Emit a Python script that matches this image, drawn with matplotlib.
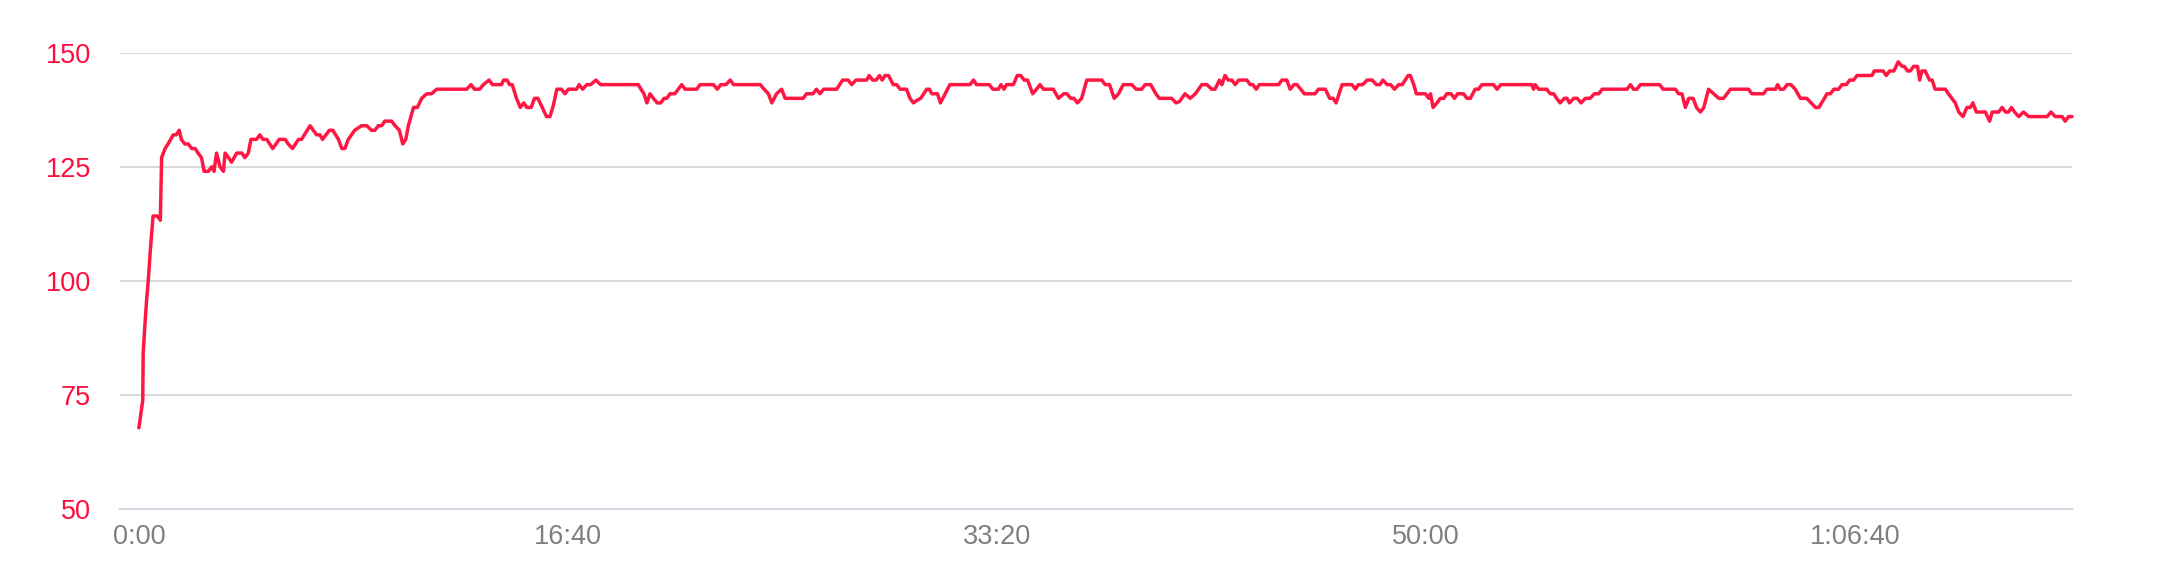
import matplotlib
matplotlib.use("Agg")
import matplotlib.pyplot as plt
from matplotlib.ticker import FuncFormatter, FixedLocator

# elapsed time in seconds
time_s = [
    0, 9, 10, 14, 18, 22, 27, 33, 43, 50, 53, 61, 68, 80, 87, 94, 99, 107, 115, 123,
    131, 138, 146, 152, 162, 170, 175, 181, 189, 197, 201, 209, 216, 228, 240, 247, 255, 261, 274, 282,
    289, 298, 312, 327, 341, 348, 358, 372, 379, 399, 414, 422, 428, 444, 452, 465, 473, 480, 488, 503,
    519, 531, 542, 550, 558, 566, 573, 589, 597, 607, 615, 622, 628, 640, 649, 659, 671, 682, 694, 764,
    774, 782, 794, 803, 816, 824, 845, 850, 858, 864, 870, 880, 889, 897, 904, 914, 922, 930, 940, 950,
    958, 966, 974, 985, 993, 1001, 1020, 1026, 1034, 1044, 1053, 1065, 1076, 1164, 1170, 1177, 1184, 1191, 1199, 1208,
    1216, 1224, 1230, 1238, 1249, 1265, 1273, 1300, 1308, 1339, 1348, 1356, 1368, 1378, 1386, 1448, 1457, 1467, 1475, 1486,
    1498, 1506, 1548, 1556, 1571, 1579, 1587, 1596, 1626, 1640, 1653, 1661, 1671, 1696, 1702, 1710, 1718, 1726, 1732, 1739,
    1747, 1758, 1766, 1774, 1789, 1797, 1805, 1814, 1822, 1836, 1842, 1848, 1861, 1868, 1879, 1890, 1937, 1945, 1952, 1982,
    1990, 2003, 2009, 2016, 2022, 2038, 2047, 2055, 2063, 2071, 2083, 2092, 2100, 2108, 2131, 2143, 2155, 2162, 2172, 2179,
    2187, 2197, 2209, 2217, 2244, 2252, 2262, 2273, 2283, 2294, 2314, 2324, 2337, 2345, 2358, 2370, 2378, 2407, 2417, 2425,
    2438, 2450, 2462, 2477, 2489, 2500, 2508, 2518, 2524, 2531, 2539, 2547, 2555, 2563, 2582, 2590, 2596, 2604, 2611, 2656,
    2664, 2675, 2683, 2692, 2699, 2716, 2741, 2749, 2765, 2775, 2783, 2790, 2804, 2827, 2835, 2842, 2852, 2862, 2874, 2884,
    2892, 2899, 2909, 2917, 2926, 2936, 2944, 2958, 2963, 2971, 2977, 2998, 3006, 3010, 3016, 3025, 3033, 3041, 3048, 3058,
    3066, 3073, 3087, 3095, 3103, 3114, 3122, 3130, 3157, 3165, 3174, 3246, 3250, 3254, 3262, 3281, 3289, 3297, 3304, 3312,
    3322, 3328, 3334, 3344, 3352, 3361, 3371, 3382, 3392, 3402, 3410, 3468, 3476, 3483, 3491, 3499, 3544, 3552, 3581, 3588,
    3596, 3604, 3612, 3622, 3630, 3639, 3647, 3658, 3670, 3682, 3693, 3709, 3751, 3759, 3786, 3794, 3814, 3819, 3825, 3833,
    3841, 3850, 3860, 3872, 3887, 3907, 3915, 3928, 3934, 3942, 3950, 3961, 3969, 3979, 3987, 3996, 4004, 4039, 4044, 4065,
    4072, 4080, 4090, 4100, 4109, 4114, 4122, 4128, 4136, 4145, 4150, 4155, 4163, 4173, 4179, 4186, 4210, 4217, 4233, 4241,
    4251, 4260, 4268, 4274, 4282, 4303, 4313, 4319, 4334, 4342, 4350, 4357, 4364, 4371, 4381, 4392, 4404, 4447, 4456, 4466,
    4482, 4489, 4497, 4505,
]

# heart rate in bpm
heart_rate = [
    67.8, 73.8, 84.1, 90.3, 95.8, 100.2, 107.1, 114.2, 114.2, 113.3, 127, 129, 130, 132, 132, 133, 131, 130, 130, 129,
    129, 128, 127, 124, 124, 125, 124, 128, 125, 124, 128, 127, 126, 128, 128, 127, 128, 131, 131, 132,
    131, 131, 129, 131, 131, 130, 129, 131, 131, 134, 132, 132, 131, 133, 133, 131, 129, 129, 131, 133,
    134, 134, 133, 133, 134, 134, 135, 135, 134, 133, 130, 131, 134, 138, 138, 140, 141, 141, 142, 142,
    143, 142, 142, 143, 144, 143, 143, 144, 144, 143, 143, 140, 138, 139, 138, 138, 140, 140, 138, 136,
    136, 138.5, 142, 142, 141, 142, 142, 143, 142, 143, 143, 144, 143, 143, 142, 141, 139, 141, 140, 139,
    139, 140, 140, 141, 141, 143, 142, 142, 143, 143, 142, 143, 143, 144, 143, 143, 142, 141, 139, 141,
    142, 140, 140, 141, 141, 142, 141, 142, 142, 144, 144, 143, 144, 144, 145, 144, 144, 145, 144, 145,
    145, 143, 143, 142, 142, 140, 139, 139.6, 140, 142, 142, 141, 141, 139, 141, 143, 143, 144, 143, 143,
    142, 142, 143, 142, 143, 143, 145, 145, 144, 144, 141, 142, 143, 142, 142, 140, 141, 141, 140, 140,
    139, 140, 144, 144, 144, 143, 143, 140, 141, 143, 143, 142, 142, 143, 143, 141, 140, 140, 139, 139.3,
    141, 140, 141, 143, 143, 142, 142, 144, 143, 145, 144, 144, 143, 144, 144, 143, 143, 142, 143, 143,
    144, 144, 142, 143, 143, 141, 141, 142, 142, 140, 140, 139, 143, 143, 142, 143, 143, 144, 144, 143,
    143, 144, 143, 143, 142, 143, 143, 145, 145, 143, 141, 141, 140, 141, 138, 139, 140, 140, 141, 141,
    140, 141, 141, 140, 140, 142, 142, 143, 143, 142, 143, 143, 142, 143, 142, 142, 141, 141, 140, 139,
    140, 140, 139, 140, 140, 139, 140, 140, 141, 141, 142, 142, 143, 142, 142, 143, 143, 142, 142, 141,
    141, 138, 140, 140, 138, 137, 138, 142, 141, 140, 140, 142, 142, 141, 141, 142, 142, 143, 142, 142,
    143, 143, 142, 140, 140, 138, 138, 140, 141, 141, 142, 142, 143, 143, 144, 144, 145, 145, 146, 146,
    145, 146, 146, 148, 147, 147, 146, 146, 147, 147, 144, 146, 146, 144, 144, 142, 142, 141, 139, 137,
    136, 138, 138, 139, 137, 137, 135, 137, 137, 138, 137, 137, 138, 137, 136, 137, 136, 136, 137, 136,
    136, 135, 136, 136,
]

y_ticks = [50, 75, 100, 125, 150]
x_ticks = [0, 1000, 2000, 3000, 4000]

LINE_RED = "#ff1744"
LABEL_RED = "#ff0d3d"
GRAY = "#7f7f7f"

plt.rcParams["font.family"] = ["Liberation Sans", "DejaVu Sans"]

fig = plt.figure(figsize=(21.64, 5.78), dpi=100)
ax = fig.add_axes([120 / 2164, 1 - 509 / 578, (2072 - 120) / 2164, (509 - 52.7) / 578])

ax.plot(time_s, heart_rate, color=LINE_RED, lw=2.5, solid_joinstyle="round",
        solid_capstyle="round", zorder=3, clip_on=False)

ax.set_xlim(-44, 4505)
ax.set_ylim(50, 150)

ax.yaxis.set_major_locator(FixedLocator(y_ticks))
ax.xaxis.set_major_locator(FixedLocator(x_ticks))


def fmt_time(v, pos):
    v = int(round(v))
    h, rem = divmod(v, 3600)
    m, s = divmod(rem, 60)
    if h > 0:
        return f"{h}:{m:02d}:{s:02d}"
    return f"{m}:{s:02d}"


ax.xaxis.set_major_formatter(FuncFormatter(fmt_time))

ax.grid(axis="y", color="#d9d9d9", lw=1.4, zorder=0)
for side in ["top", "right", "left"]:
    ax.spines[side].set_visible(False)
ax.spines["bottom"].set_color("#ccd6eb")
ax.spines["bottom"].set_linewidth(1.5)
ax.spines["bottom"].set_zorder(1)

ax.tick_params(axis="y", length=0, pad=21, labelsize=19.5, labelcolor=LABEL_RED)
ax.tick_params(axis="x", length=0, pad=11, labelsize=19.5, labelcolor=GRAY)

fig.savefig("out.png", dpi=100)
